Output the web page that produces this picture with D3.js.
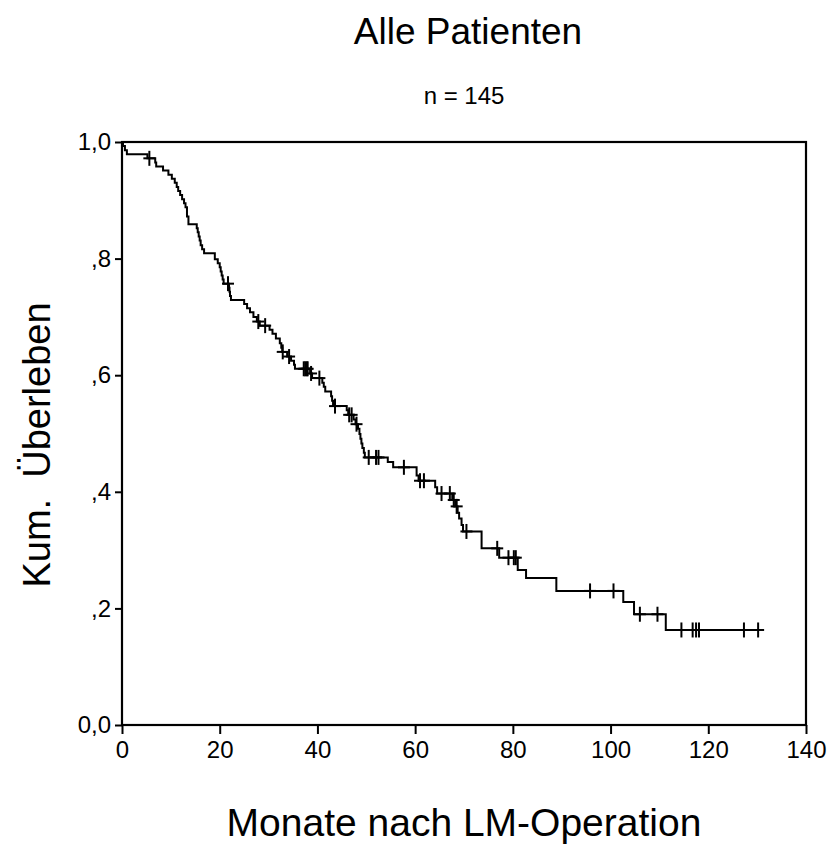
<html>
<head>
  <style>
    body { margin: 0; background: white; font-family: "Liberation Sans", Arial, Helvetica, sans-serif; }
    svg text { fill: black; }
  </style>
  <script src="https://cdn.jsdelivr.net/npm/d3@7"></script>
</head>
<body>
<svg id="chart"></svg>
<script>
  // Kaplan-Meier: Zeitpunkte der Ereignisse (Monate) und kumuliertes Überleben danach
  const eventTimes = [0.2, 0.6, 1.0, 5.2, 6.8, 7.0, 8.4, 9.5, 10.2, 10.8, 11.2, 11.5, 11.9, 12.3, 12.7, 13.0, 13.3, 13.6,
    15.3, 15.5, 15.7, 15.9, 16.1, 16.4, 16.8, 19.0, 19.6, 20.0, 20.2, 20.4, 20.6, 20.8, 21.9, 22.0, 22.1, 22.3,
    25.0, 25.6, 26.2, 26.9, 27.6, 28.2, 30.2, 30.8, 31.5, 32.3, 32.6, 32.8, 33.8, 34.6, 35.2, 35.4,
    38.5, 38.9, 41.0, 41.3, 41.6, 42.8, 43.0, 43.2, 46.0, 46.3, 47.4, 47.8, 48.3, 48.6, 48.8, 49.0, 49.2, 49.5, 49.7,
    54.4, 55.5, 60.3, 60.7, 64.1, 64.5, 67.6, 68.2, 68.7, 69.0, 69.5, 69.8, 73.6, 77.2, 81.0, 82.7, 88.9,
    102.6, 104.8, 111.3]
  const survival = [0.993, 0.986, 0.979, 0.972, 0.965, 0.958, 0.951, 0.944, 0.937, 0.930, 0.923, 0.916, 0.909, 0.902, 0.895, 0.888, 0.872, 0.859,
    0.852, 0.845, 0.838, 0.831, 0.823, 0.816, 0.809, 0.799, 0.792, 0.785, 0.778, 0.771, 0.764, 0.757, 0.750, 0.743, 0.736, 0.729,
    0.722, 0.715, 0.708, 0.700, 0.692, 0.685, 0.678, 0.671, 0.663, 0.655, 0.647, 0.640, 0.632, 0.625, 0.618, 0.611,
    0.603, 0.595, 0.587, 0.580, 0.572, 0.564, 0.556, 0.547, 0.540, 0.532, 0.524, 0.516, 0.508, 0.499, 0.491, 0.483, 0.475, 0.467, 0.459,
    0.451, 0.442, 0.428, 0.419, 0.408, 0.397, 0.386, 0.375, 0.364, 0.354, 0.343, 0.332, 0.303, 0.287, 0.266, 0.252, 0.230,
    0.211, 0.190, 0.163]
  // zensierte Fälle (Monate)
  const censorTimes = [5.6, 21.7, 27.9, 29.3, 32.9, 34.2, 37.2, 37.5, 37.8, 38.0, 38.7, 40.4, 43.6, 46.5, 47.0, 48.0,
    50.5, 52.0, 52.5, 57.7, 61.0, 61.8, 65.4, 67.1, 67.9, 68.5, 70.5, 76.8, 79.1, 80.2, 80.6, 95.8, 100.6,
    106.0, 109.6, 114.5, 116.8, 117.5, 118.1, 127.3, 130.2]

  const xTicks = [0, 20, 40, 60, 80, 100, 120, 140]
  const yTicks = [0, 0.2, 0.4, 0.6, 0.8, 1.0]
  const yTickLabels = ["0,0", ",2", ",4", ",6", ",8", "1,0"]

  const width = 829, height = 850
  const margin = { top: 142, left: 122, right: 23, bottom: 125 }
  const bodyWidth = width - margin.left - margin.right
  const bodyHeight = height - margin.top - margin.bottom

  const svg = d3.select("#chart").attr("width", width).attr("height", height)

  const xScale = d3.scaleLinear().domain([0, 140]).range([0, bodyWidth])
  const yScale = d3.scaleLinear().domain([0, 1]).range([bodyHeight, 0])

  const body = svg.append("g").attr("transform", `translate(${margin.left},${margin.top})`)

  // Überlebenswert zum Zeitpunkt t
  function survAt(t) {
    let i = d3.bisectRight(eventTimes, t)
    return i === 0 ? 1 : survival[i - 1]
  }

  let points = [[0, 1]].concat(eventTimes.map((t, i) => [t, survival[i]]))
  let lastT = d3.max(censorTimes)
  points.push([lastT, survAt(lastT)])

  let line = d3.line()
    .x(d => xScale(d[0]))
    .y(d => yScale(d[1]))
    .curve(d3.curveStepAfter)

  body.append("path")
    .datum(points)
    .attr("d", line)
    .attr("fill", "none")
    .attr("stroke", "black")
    .attr("stroke-width", 2)

  // Kreuze für zensierte Fälle
  let marks = body.selectAll(".censor").data(censorTimes).enter().append("g")
    .attr("class", "censor")
    .attr("transform", t => `translate(${xScale(t)},${yScale(survAt(t))})`)
  marks.append("line").attr("x1", -6).attr("x2", 6).attr("y1", 0).attr("y2", 0)
    .attr("stroke", "black").attr("stroke-width", 2)
  marks.append("line").attr("x1", 0).attr("x2", 0).attr("y1", -7.5).attr("y2", 7.5)
    .attr("stroke", "black").attr("stroke-width", 2)

  // Achsen
  let axisX = d3.axisBottom(xScale).tickValues(xTicks).tickSize(9).tickPadding(7).tickFormat(d3.format("d"))
  let gx = body.append("g").attr("transform", `translate(0,${bodyHeight})`).call(axisX)
  let axisY = d3.axisLeft(yScale).tickValues(yTicks).tickSize(7).tickPadding(4)
    .tickFormat((d, i) => yTickLabels[i])
  let gy = body.append("g").call(axisY)
  for (let g of [gx, gy]) {
    g.select(".domain").remove()
    g.attr("font-size", 24).attr("font-family", "Liberation Sans, Arial, sans-serif")
    g.selectAll("line").attr("stroke", "black").attr("stroke-width", 2)
    g.selectAll("text").attr("fill", "black")
  }

  // Rahmen
  body.append("rect")
    .attr("width", bodyWidth).attr("height", bodyHeight)
    .attr("fill", "none").attr("stroke", "black").attr("stroke-width", 2.2)

  // Titel und Beschriftungen
  let cx = margin.left + bodyWidth / 2
  svg.append("text").attr("x", cx + 4).attr("y", 44).attr("text-anchor", "middle")
    .attr("font-size", 37).text("Alle Patienten")
  svg.append("text").attr("x", cx).attr("y", 104).attr("text-anchor", "middle")
    .attr("font-size", 24).text("n = 145")
  svg.append("text").attr("x", cx).attr("y", 836).attr("text-anchor", "middle")
    .attr("font-size", 39).text("Monate nach LM-Operation")
  svg.append("text").attr("transform", `translate(50,445) rotate(-90)`)
    .attr("text-anchor", "middle").attr("font-size", 38)
    .style("white-space", "pre").text("Kum.  Überleben")
</script>
</body>
</html>
